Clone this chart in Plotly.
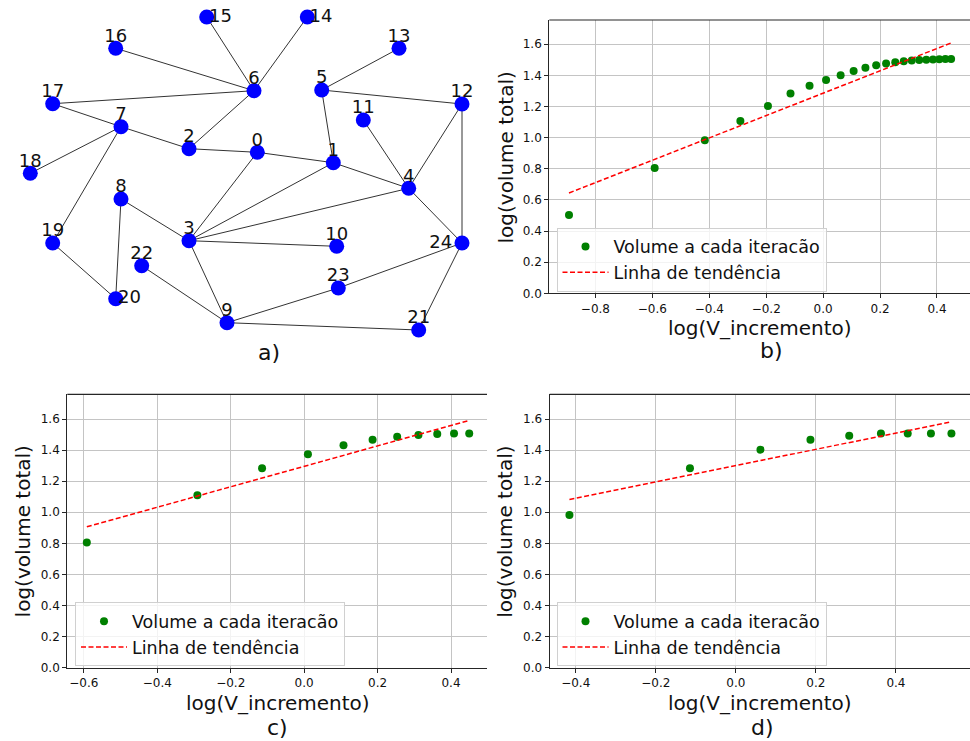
import numpy as np
import plotly.graph_objects as go

# ---------------- data ----------------
# panel a: graph layout (node positions) and edges
node_ids = list(range(25))
node_x = [257.3, 333.3, 189.0, 189.0, 408.7, 321.7, 254.0, 121.0, 121.0, 227.0,
          336.7, 363.3, 462.0, 399.0, 307.3, 206.7, 115.7, 52.7, 30.3, 52.7,
          115.7, 418.7, 141.7, 338.3, 462.0]
node_y = [152.3, 162.7, 148.7, 240.7, 188.3, 90.0, 90.7, 126.7, 199.0, 322.7,
          246.3, 120.0, 104.0, 48.3, 17.0, 17.0, 48.3, 103.7, 173.3, 243.0,
          298.7, 330.0, 265.7, 288.0, 243.0]
edges = [(6, 15), (6, 14), (6, 16), (6, 17), (6, 2), (5, 13), (5, 12), (5, 1),
         (12, 4), (12, 24), (11, 4), (17, 7), (7, 2), (7, 18), (7, 19), (2, 0),
         (0, 1), (0, 3), (1, 4), (1, 3), (3, 4), (3, 8), (3, 10), (3, 9),
         (4, 24), (8, 20), (19, 20), (22, 9), (9, 23), (9, 21), (23, 24), (24, 21)]
label_side = {14: "middle right", 15: "middle right", 20: "middle right", 24: "middle left"}

# panel b
x_b = [-0.8928, -0.5918, -0.4157, -0.2907, -0.1938, -0.1146, -0.0477, 0.0103,
       0.0615, 0.1072, 0.1486, 0.1864, 0.2212, 0.2534, 0.2833, 0.3113, 0.3377,
       0.3625, 0.3860, 0.4082, 0.4294, 0.4496]
y_b = [0.503, 0.805, 0.983, 1.107, 1.204, 1.283, 1.334, 1.371, 1.401, 1.429,
       1.450, 1.465, 1.476, 1.484, 1.491, 1.495, 1.499, 1.501, 1.503, 1.504,
       1.505, 1.505]
# panel c
x_c = [-0.5918, -0.2907, -0.1146, 0.0103, 0.1072, 0.1864, 0.2534, 0.3113,
       0.3625, 0.4082, 0.4496]
y_c = [0.806, 1.109, 1.283, 1.373, 1.431, 1.467, 1.486, 1.497, 1.503, 1.506, 1.507]
# panel d
x_d = [-0.4157, -0.1146, 0.0615, 0.1864, 0.2833, 0.3625, 0.4294, 0.4874, 0.5386]
y_d = [0.982, 1.283, 1.403, 1.467, 1.493, 1.506, 1.507, 1.507, 1.507]

yticks = [0.0, 0.2, 0.4, 0.6, 0.8, 1.0, 1.2, 1.4, 1.6]
xticks_b = [-0.8, -0.6, -0.4, -0.2, 0.0, 0.2, 0.4]
xticks_c = [-0.6, -0.4, -0.2, 0.0, 0.2, 0.4]
xticks_d = [-0.4, -0.2, 0.0, 0.2, 0.4]

scatter_name = "Volume a cada iteracão"
trend_name = "Linha de tendência"
xtitle = "log(V_incremento)"
ytitle = "log(volume total)"

# ---------------- figure ----------------
W, H = 970, 741
FONT = "DejaVu Sans"
GREEN, RED, BLUE = "#008000", "#ff0000", "#0000ff"
GRID, SPINE = "#c4c4c4", "#262626"


def px_x(p):
    return p / W


def px_y(p):
    return 1 - p / H


fig = go.Figure()

# ---- panel a ----
ex, ey = [], []
for a, b in edges:
    ex += [node_x[a], node_x[b], None]
    ey += [node_y[a], node_y[b], None]
fig.add_trace(go.Scatter(x=ex, y=ey, mode="lines", line=dict(color="#333333", width=1),
                         hoverinfo="skip", showlegend=False, xaxis="x", yaxis="y"))
fig.add_trace(go.Scatter(x=node_x, y=node_y, mode="markers",
                         marker=dict(color=BLUE, size=15, line=dict(width=0)),
                         cliponaxis=False, showlegend=False, xaxis="x", yaxis="y"))
fig.add_trace(go.Scatter(x=node_x, y=node_y, mode="markers+text",
                         text=[str(i) for i in node_ids],
                         textposition=[label_side.get(i, "top center") for i in node_ids],
                         textfont=dict(family=FONT, size=18, color="#111111"),
                         marker=dict(color="rgba(0,0,0,0)", line=dict(width=0),
                                     size=[14 if i == 24 else 2 for i in node_ids]),
                         hoverinfo="skip", cliponaxis=False, showlegend=False,
                         xaxis="x", yaxis="y"))

# ---- scatter panels ----
panels = [
    ("2", x_b, y_b, "legend"),
    ("3", x_c, y_c, "legend2"),
    ("4", x_d, y_d, "legend3"),
]
for ax, xs, ys, lg in panels:
    k, c0 = np.polyfit(xs, ys, 1)
    tx = [xs[0], xs[-1]]
    ty = [c0 + k * xs[0], c0 + k * xs[-1]]
    fig.add_trace(go.Scatter(x=xs, y=ys, mode="markers", name=scatter_name,
                             marker=dict(color=GREEN, size=8, line=dict(width=0)),
                             xaxis="x" + ax, yaxis="y" + ax, legend=lg, cliponaxis=False))
    fig.add_trace(go.Scatter(x=tx, y=ty, mode="lines", name=trend_name,
                             line=dict(color=RED, width=1.5, dash="5px,2.5px"),
                             xaxis="x" + ax, yaxis="y" + ax, legend=lg))

axis_common = dict(showgrid=True, gridcolor=GRID, gridwidth=1, zeroline=False,
                   showline=True, linecolor=SPINE, linewidth=1.2, ticks="outside",
                   ticklen=4, tickwidth=1, tickcolor=SPINE,
                   tickfont=dict(family=FONT, size=12, color="#111111"),
                   tickformat=".1f", automargin=False)

# domains (pixel based)
dom_b = dict(x=[px_x(549.3), 1.0], y=[px_y(293.3), px_y(20)])
dom_c = dict(x=[px_x(67.3), px_x(487)], y=[px_y(667.7), px_y(394.3)])
dom_d = dict(x=[px_x(549.7), 1.0], y=[px_y(667.7), px_y(394.3)])

fig.update_layout(
    width=W, height=H, margin=dict(l=0, r=0, t=0, b=0),
    paper_bgcolor="white", plot_bgcolor="white",
    font=dict(family=FONT, color="#111111"),
    xaxis=dict(domain=[0, px_x(490)], range=[0, 490], visible=False),
    yaxis=dict(domain=[px_y(370), 1], range=[370, 0], visible=False),
    xaxis2=dict(domain=dom_b["x"], range=[-0.962, 0.516], tickvals=xticks_b, anchor="y2", **axis_common),
    yaxis2=dict(domain=dom_b["y"], range=[0, 1.756], tickvals=yticks, anchor="x2", **axis_common),
    xaxis3=dict(domain=dom_c["x"], range=[-0.645, 0.498], tickvals=xticks_c, anchor="y3", **axis_common),
    yaxis3=dict(domain=dom_c["y"], range=[0, 1.759], tickvals=yticks, anchor="x3", **axis_common),
    xaxis4=dict(domain=dom_d["x"], range=[-0.465, 0.585], tickvals=xticks_d, anchor="y4", **axis_common),
    yaxis4=dict(domain=dom_d["y"], range=[0, 1.759], tickvals=yticks, anchor="x4", **axis_common),
    showlegend=True,
)

legend_common = dict(bgcolor="rgba(255,255,255,0.8)", bordercolor="#d0d0d0", borderwidth=1,
                     font=dict(family=FONT, size=17.5, color="#111111"),
                     xanchor="left", yanchor="top", itemwidth=46, tracegroupgap=0)
fig.update_layout(
    legend=dict(x=px_x(556.5), y=px_y(227.7), **legend_common),
    legend2=dict(x=px_x(75), y=px_y(602.3), **legend_common),
    legend3=dict(x=px_x(556.5), y=px_y(602.3), **legend_common),
)

# top spines
for ax in ["2", "3", "4"]:
    fig.add_shape(type="line", xref=f"x{ax} domain", yref=f"y{ax} domain",
                  x0=0, x1=1, y0=1, y1=1, line=dict(color=SPINE, width=1.2))

# axis titles and captions
ann = []
for (cx, cy) in [(760, 328), (277.7, 702.7), (760, 702.7)]:
    ann.append(dict(text=xtitle, x=px_x(cx), y=px_y(cy), xref="paper", yref="paper",
                    showarrow=False, font=dict(family=FONT, size=20, color="#111111"),
                    xanchor="center", yanchor="middle"))
for (cx, cy) in [(505, 157.5), (22.7, 531.7), (505, 531.7)]:
    ann.append(dict(text=ytitle, x=px_x(cx), y=px_y(cy), xref="paper", yref="paper",
                    showarrow=False, textangle=-90,
                    font=dict(family=FONT, size=20, color="#111111"),
                    xanchor="center", yanchor="middle"))
for txt, (cx, cy) in [("a)", (269, 353)), ("b)", (771.7, 351)), ("c)", (277, 727)), ("d)", (762, 727))]:
    ann.append(dict(text=txt, x=px_x(cx), y=px_y(cy), xref="paper", yref="paper",
                    showarrow=False, font=dict(family=FONT, size=22, color="#111111"),
                    xanchor="center", yanchor="middle"))
fig.update_layout(annotations=ann)

fig.write_html("out.html", config={"displayModeBar": False},
               post_script="document.body.style.margin='0';")
